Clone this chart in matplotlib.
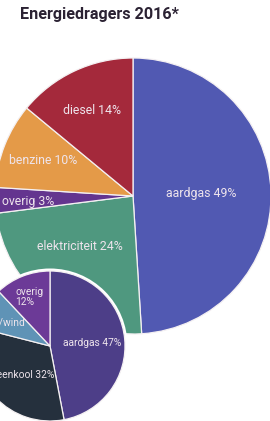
import matplotlib
matplotlib.use("Agg")
import matplotlib.pyplot as plt
from matplotlib.patches import Circle

# big pie: energy carriers 2016
big_names = ["aardgas", "elektriciteit", "overig", "benzine", "diesel"]
big_values = [49, 24, 3, 10, 14]
big_colors = ["#5159b2", "#4f987f", "#64358f", "#e49a48", "#a4293b"]

# small pie: sources of electricity
small_names = ["aardgas", "steenkool", "zon/wind", "overig"]
small_values = [47, 32, 9, 12]
small_colors = ["#4d3e88", "#25303d", "#5f93b6", "#6c3a97"]

W, H = 270, 421
plt.rcParams['font.family'] = ['Roboto', 'DejaVu Sans']

fig = plt.figure(figsize=(W / 100, H / 100), dpi=100)
ax = fig.add_axes([0, 0, 1, 1])

def py(y):
    # pixel row (from top) -> data y
    return H - y

ax.pie(big_values, colors=big_colors, startangle=90, counterclock=False,
       center=(133, py(196)), radius=138,
       wedgeprops=dict(edgecolor="#f4f0f2", linewidth=0.9, zorder=1))

ax.add_patch(Circle((50, py(346)), 77.5, facecolor="white", edgecolor="none", zorder=2))
ax.pie(small_values, colors=small_colors, startangle=90, counterclock=False,
       center=(50, py(346)), radius=75,
       wedgeprops=dict(edgecolor="#f4f0f2", linewidth=0.9, zorder=3))

ax.set_xlim(0, W)
ax.set_ylim(0, H)
ax.set_aspect("equal")
ax.axis("off")

txt = "#eee4ec"
big_pos = {"aardgas": (201, 193), "elektriciteit": (80, 246), "overig": (28, 202),
           "benzine": (43, 161), "diesel": (92, 110)}
for n, v in zip(big_names, big_values):
    x, y = big_pos[n]
    ax.text(x, py(y), f"{n} {v}%", color=txt, fontsize=8.8,
            ha="center", va="center", zorder=5)

fs = 7.4
ax.text(92, py(343), f"{small_names[0]} {small_values[0]}%", color=txt,
        fontsize=fs, ha="center", va="center", zorder=5)
ax.text(55, py(375), f"{small_names[1]} {small_values[1]}%", color=txt,
        fontsize=fs, ha="right", va="center", zorder=5)
ax.text(25, py(323), small_names[2], color=txt,
        fontsize=fs, ha="right", va="center", zorder=5)
ax.text(15, py(297), f"{small_names[3]}\n{small_values[3]}%", color=txt,
        fontsize=fs, ha="left", va="center", linespacing=1.1, zorder=5)

fig.text(20 / W, 1 - 14 / H, "Energiedragers 2016*", color="#2b2233",
         fontsize=11.6, fontweight="bold", ha="left", va="center")

fig.savefig("out.png", dpi=100, facecolor="white")
